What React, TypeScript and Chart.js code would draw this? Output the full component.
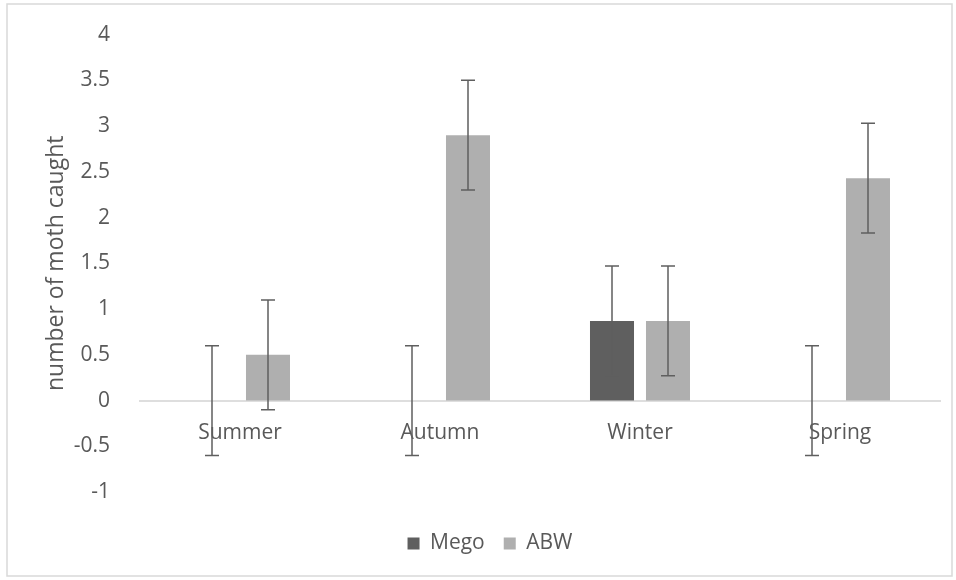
import React, { useEffect, useRef } from "react";
import { Chart, registerables } from "chart.js";

Chart.register(...registerables);

const categories = ["Summer", "Autumn", "Winter", "Spring"];
const megoValues = [0, 0, 0.87, 0];
const abwValues = [0.5, 2.9, 0.87, 2.43];
const megoErrors = [0.6, 0.6, 0.6, 0.6];
const abwErrors = [0.6, 0.6, 0.6, 0.6];
const yMin = -1;
const yMax = 4;
const yStep = 0.5;
const seriesNames = ["Mego", "ABW"];
const yTitle = "number of moth caught";

const FONT = "'Open Sans', 'Noto Sans', sans-serif";
const TEXT = "#595959";

const framePlugin = {
  id: "frame",
  beforeDraw(chart: any) {
    const { ctx, width, height } = chart;
    ctx.save();
    ctx.fillStyle = "#ffffff";
    ctx.fillRect(0, 0, width, height);
    ctx.strokeStyle = "#d9d9d9";
    ctx.lineWidth = 1.5;
    ctx.strokeRect(7, 4, 945, 572);
    ctx.restore();
  },
};

const errorBarPlugin = {
  id: "errorBars",
  afterDatasetsDraw(chart: any) {
    const { ctx } = chart;
    const yScale = chart.scales.y;
    chart.data.datasets.forEach((ds: any, i: number) => {
      const meta = chart.getDatasetMeta(i);
      meta.data.forEach((bar: any, j: number) => {
        const v = ds.data[j];
        const e = ds.errors[j];
        const x = bar.x;
        const yt = yScale.getPixelForValue(v + e);
        const yb = yScale.getPixelForValue(v - e);
        ctx.save();
        ctx.strokeStyle = "#5f5f5f";
        ctx.lineWidth = 1.5;
        ctx.beginPath();
        ctx.moveTo(x, yt);
        ctx.lineTo(x, yb);
        ctx.moveTo(x - 7, yt);
        ctx.lineTo(x + 7, yt);
        ctx.moveTo(x - 7, yb);
        ctx.lineTo(x + 7, yb);
        ctx.stroke();
        ctx.restore();
      });
    });
  },
};

export default function App() {
  const ref = useRef<HTMLCanvasElement>(null);
  useEffect(() => {
    if (!ref.current) return;
    const chart = new Chart(ref.current, {
      type: "bar",
      data: {
        labels: categories,
        datasets: [
          {
            label: seriesNames[0],
            data: megoValues,
            errors: megoErrors,
            backgroundColor: "#5f5f5f",
            categoryPercentage: 0.56,
            barPercentage: 0.786,
          } as any,
          {
            label: seriesNames[1],
            data: abwValues,
            errors: abwErrors,
            backgroundColor: "#afafaf",
            categoryPercentage: 0.56,
            barPercentage: 0.786,
          } as any,
        ],
      },
      options: {
        responsive: false,
        animation: false,
        layout: { padding: { left: 40, right: 16, top: 33, bottom: 16 } },
        plugins: {
          legend: {
            position: "bottom",
            labels: {
              boxWidth: 12,
              boxHeight: 12,
              padding: 19,
              color: TEXT,
              font: { family: FONT, size: 21 },
            },
          },
          tooltip: { enabled: false },
        },
        scales: {
          x: {
            position: { y: 0 } as any,
            grid: { display: false },
            border: { display: true, color: "#dedede", width: 2 },
            ticks: {
              color: TEXT,
              font: { family: FONT, size: 21 },
              padding: 12,
              maxRotation: 0,
            },
          },
          x2: {
            type: "category",
            labels: [""],
            position: "bottom",
            grid: { display: false },
            border: { display: false },
            ticks: { display: false },
            afterFit: (s: any) => {
              s.height = 22;
            },
          },
          y: {
            min: yMin,
            max: yMax,
            grid: { display: false },
            border: { display: false },
            ticks: {
              stepSize: yStep,
              color: TEXT,
              padding: 22,
              font: { family: FONT, size: 21 },
              callback: (v: any) => String(Math.round(Number(v) * 10) / 10),
            },
            title: {
              display: true,
              text: yTitle,
              color: TEXT,
              font: { family: FONT, size: 23 },
              padding: { top: 3, bottom: 0 },
            },
            afterFit: (s: any) => {
              s.width = 100;
            },
          },
        },
      } as any,
      plugins: [framePlugin, errorBarPlugin],
    });
    return () => chart.destroy();
  }, []);
  return (
    <div style={{ position: "absolute", left: 0, top: 0, width: 956, height: 580 }}>
      <canvas ref={ref} width={956} height={580} />
    </div>
  );
}
